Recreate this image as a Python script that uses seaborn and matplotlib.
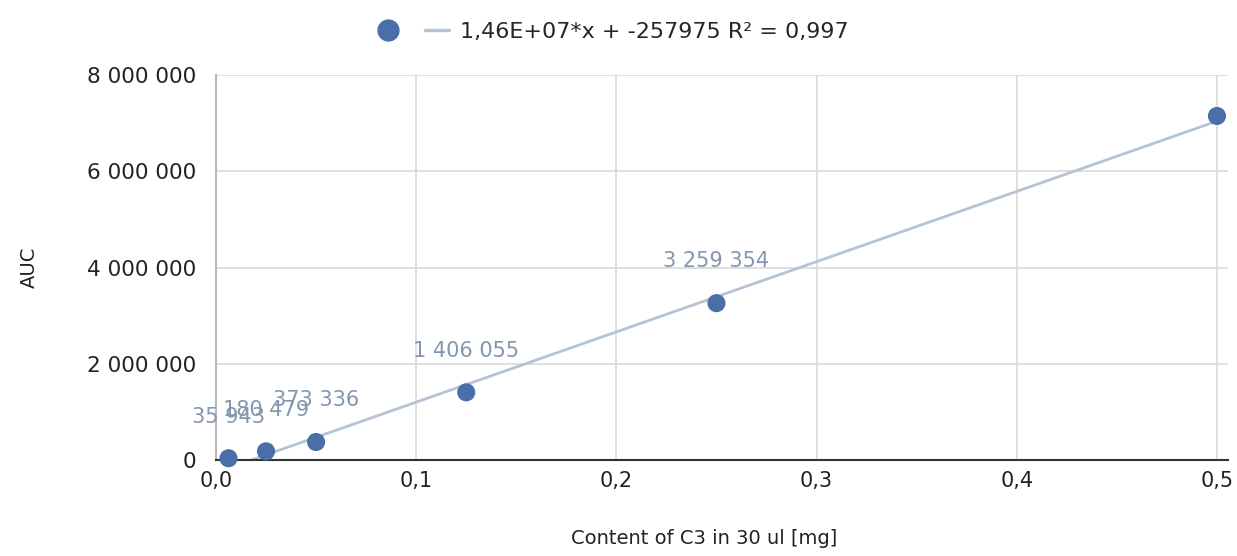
import numpy as np
import pandas as pd
import matplotlib
matplotlib.use("Agg")
import matplotlib.pyplot as plt
from matplotlib.lines import Line2D
import seaborn as sns

# Data
content_mg = [0.00625, 0.025, 0.05, 0.125, 0.25, 0.5]
auc = [35943, 180479, 373336, 1406055, 3259354, 7150000]
point_labels = ["35 943", "180 479", "373 336", "1 406 055", "3 259 354", ""]
x_ticks = [0.0, 0.1, 0.2, 0.3, 0.4, 0.5]
x_tick_labels = ["0,0", "0,1", "0,2", "0,3", "0,4", "0,5"]
y_ticks = [0, 2000000, 4000000, 6000000, 8000000]
y_tick_labels = ["0", "2 000 000", "4 000 000", "6 000 000", "8 000 000"]
trend_label = "1,46E+07*x + -257975 R² = 0,997"
slope = 1.46e7
intercept = -257975

sns.set_theme(style="whitegrid")
plt.rcParams['font.family'] = ['DejaVu Sans']

df = pd.DataFrame({"x": content_mg, "y": auc})
x_line = np.array([0.0, 0.5])
trend = pd.DataFrame({"x": x_line, "y": slope * x_line + intercept})

fig = plt.figure(figsize=(12.37, 5.56), dpi=100)
ax = fig.add_axes([0.1746, 0.1727, 0.8181, 0.6923])

point_color = "#4a6fa8"
line_color = "#b4c3d6"
label_color = "#8296ad"

sns.lineplot(data=trend, x="x", y="y", ax=ax, color=line_color, linewidth=2, zorder=2)
sns.scatterplot(data=df, x="x", y="y", ax=ax, color=point_color, s=170,
                edgecolor="none", zorder=3, clip_on=False)

for xv, yv, lab in zip(content_mg, auc, point_labels):
    if lab:
        ax.annotate(lab, (xv, yv), xytext=(0, 30), textcoords="offset points",
                    ha="center", va="center", fontsize=15, color=label_color,
                    zorder=4, annotation_clip=False)

ax.set_xlim(0, 0.5055)
ax.set_ylim(0, 8000000)
ax.set_xticks(x_ticks)
ax.set_xticklabels(x_tick_labels, fontsize=15, color="#222222")
ax.set_yticks(y_ticks)
ax.set_yticklabels(y_tick_labels, fontsize=15.5, color="#222222")
ax.tick_params(axis="x", length=0, pad=8)
ax.tick_params(axis="y", length=0, pad=14)

ax.grid(True, color="#d9d9d9", linewidth=1.2)
for side in ["top", "right"]:
    ax.spines[side].set_visible(False)
ax.spines["left"].set_visible(True)
ax.spines["left"].set_color("#b8b8b8")
ax.spines["left"].set_linewidth(1.5)
ax.spines["bottom"].set_color("#333333")
ax.spines["bottom"].set_linewidth(1.5)

ax.set_xlabel("Content of C3 in 30 ul [mg]", fontsize=14, color="#222222")
ax.xaxis.set_label_coords(0.482, -0.18)
ax.set_ylabel("AUC", fontsize=14, color="#222222", labelpad=35)

handles = [
    Line2D([], [], marker="o", linestyle="none", markersize=15, color=point_color),
    Line2D([], [], color=line_color, linewidth=2.5),
]
leg = fig.legend(handles, ["", trend_label], loc="center", bbox_to_anchor=(0.495, 0.942),
                 ncol=2, frameon=False, handlelength=1.1,
                 columnspacing=0.6, handletextpad=0.5,
                 prop={"size": 16})

fig.savefig("out.png", dpi=100, facecolor="white")
